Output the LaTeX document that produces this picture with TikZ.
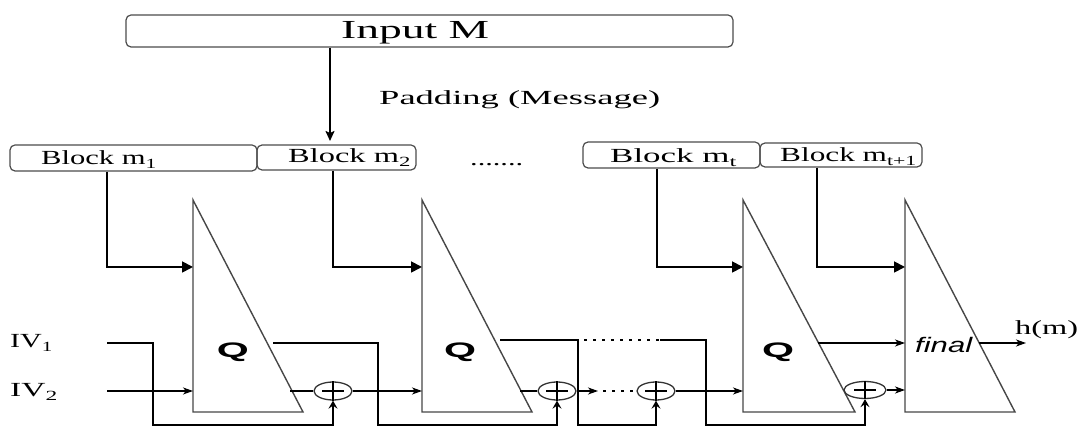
\documentclass[tikz,border=0pt]{standalone}
\usepackage{fontspec}
\usepackage{graphicx}
\setmainfont{Liberation Serif}
\setsansfont{Liberation Sans}
\usetikzlibrary{arrows.meta,shapes.geometric,calc}
\newcommand{\fitw}[2]{\resizebox{#1}{\height}{#2}}
\begin{document}
\begin{tikzpicture}[x=1pt,y=-1pt,
  box/.style={draw=black!70,line width=1.2pt,rounded corners=5pt,inner sep=0pt},
  txt/.style={inner sep=0pt,anchor=base west,font=\fontsize{20}{23}\selectfont},
  tri/.style={draw=black!72,line width=1.4pt,line join=miter},
  conn/.style={draw=black,line width=1.8pt},
  blkarr/.style={-{Triangle[length=11pt,width=11pt]}},
  thinarr/.style={-{Stealth[length=10pt,width=7pt,inset=3pt]}},
  uparr/.style={-{Stealth[length=8pt,width=9pt,inset=3pt]}},
  xor/.style={draw=black!80,line width=1.3pt,ellipse,inner sep=0pt,minimum width=38pt,minimum height=18pt},
  dotline/.style={draw=black,line width=1.8pt,dash pattern=on 3pt off 6pt},
  qlab/.style={inner sep=0pt,anchor=base,font=\fontsize{21}{24}\selectfont\sffamily\bfseries}
]
\useasboundingbox (0,0) rectangle (1080,427);

% boxes
\node[box,minimum width=607pt,minimum height=32pt] (in) at (429.5,31) {};
\node[txt,font=\fontsize{26}{30}\selectfont] (tin) at (341,39) {\fitw{148pt}{Input M}};
\node[box,minimum width=247pt,minimum height=26pt] (b1) at (133.5,158) {};
\node[box,minimum width=159pt,minimum height=25pt] (b2) at (336.5,157.5) {};
\node[box,minimum width=177pt,minimum height=26pt] (b3) at (671.5,155) {};
\node[box,minimum width=162pt,minimum height=24pt] (b4) at (841,155) {};
\node[txt] (tb1) at (41,165) {\fitw{116pt}{Block m\textsubscript{1}}};
\node[txt] (tb2) at (288,163) {\fitw{123pt}{Block m\textsubscript{2}}};
\node[txt] (tb3) at (610,163) {\fitw{127pt}{Block m\textsubscript{t}}};
\node[txt] (tb4) at (780,162) {\fitw{137pt}{Block m\textsubscript{t+1}}};
\node[txt] (dots) at (470,166) {\fitw{53pt}{.......}};
\node[txt] (pad) at (379,105) {\fitw{281pt}{Padding (Message)}};

% Input -> block 2
\coordinate (pa) at (330,141);
\draw[conn,-{Stealth[length=10pt,width=9pt,inset=2pt]}] (pa |- in.south) -- (pa);

% triangles
\draw[tri] (193,200) -- (193,412) -- (303,412) -- cycle;
\draw[tri] (422,200) -- (422,412) -- (532,412) -- cycle;
\draw[tri] (743,200) -- (743,412) -- (855,412) -- cycle;
\draw[tri] (905,200) -- (905,412) -- (1015,412) -- cycle;
\coordinate (t1k) at (193,267);
\coordinate (t2k) at (422,267);
\coordinate (t3k) at (743,267);
\coordinate (t4k) at (905,267);

\node[qlab] (q1) at (233,358) {\fitw{32pt}{Q}};
\node[qlab] (q2) at (460,358) {\fitw{32pt}{Q}};
\node[qlab] (q3) at (778,358) {\fitw{32pt}{Q}};
\node[inner sep=0pt,anchor=base west,font=\fontsize{21}{24}\selectfont\sffamily\itshape] (fin) at (915,353) {\fitw{57pt}{final}};

% block connectors
\coordinate (k1) at (107,267);
\coordinate (k2) at (333,267);
\coordinate (k3) at (657,267);
\coordinate (k4) at (817,267);
\draw[conn,blkarr] (k1 |- b1.south) -- (k1) -- (t1k);
\draw[conn,blkarr] (k2 |- b2.south) -- (k2) -- (t2k);
\draw[conn,blkarr] (k3 |- b3.south) -- (k3) -- (t3k);
\draw[conn,blkarr] (k4 |- b4.south) -- (k4) -- (t4k);

% IV labels
\node[txt] (iv1) at (10,348) {\fitw{43pt}{IV\textsubscript{1}}};
\node[txt] (iv2) at (10,397) {\fitw{48pt}{IV\textsubscript{2}}};

% xor nodes
\node[xor] (x1) at (333,391) {};
\node[xor] (x2) at (557,391) {};
\node[xor] (x3) at (656,391) {};
\node[xor,minimum width=42pt,minimum height=17pt] (x4) at (865,390) {};
\foreach \n in {x1,x2,x3,x4}{
  \draw[line width=2.4pt] (\n.north) -- (\n.south);
  \draw[line width=2.4pt] ([xshift=-11pt]\n.center) -- ([xshift=11pt]\n.center);
}

% IV1 path
\coordinate (iv1s) at (107,343);
\coordinate (iv1k) at (153,425);
\draw[conn,uparr] (iv1s) -| (iv1k) -| (x1.south);
% IV2
\coordinate (iv2s) at (107,391);
\coordinate (t1i) at (193,391);
\draw[conn,thinarr] (iv2s) -- (t1i);

% stage 1
\coordinate (t1o) at (290,391);
\draw[conn] (t1o) -- (x1.west);
\coordinate (t2i) at (422,391);
\draw[conn,thinarr] (x1.east) -- (t2i);
\coordinate (q1o) at (273,343);
\coordinate (q1k) at (378,425);
\draw[conn,uparr] (q1o) -| (q1k) -| (x2.south);

% stage 2
\coordinate (t2o) at (520,391);
\draw[conn] (t2o) -- (x2.west);
\coordinate (x2a) at (598,391);
\draw[conn,thinarr] (x2.east) -- (x2a);
\coordinate (x2d) at (603,391);
\draw[dotline] (x2d) -- (x3.west);
\coordinate (q2o) at (500,340);
\coordinate (q2k) at (578,425);
\draw[conn,uparr] (q2o) -| (q2k) -| (x3.south);
\coordinate (dA) at (584,340);
\coordinate (dB) at (660,340);
\draw[dotline] (dA) -- (dB);
\coordinate (q2k2) at (706,425);
\draw[conn,uparr] (dB) -| (q2k2) -| (x4.south);

% stage 3
\coordinate (t3i) at (743,391);
\draw[conn,thinarr] (x3.east) -- (t3i);
\coordinate (t4i) at (905,390);
\draw[conn,thinarr] (x4.east) -- (t4i);
\coordinate (q3o) at (818,343);
\coordinate (t4m) at (905,343);
\draw[conn,thinarr] (q3o) -- (t4m);

% output
\coordinate (t4o) at (979,343);
\coordinate (hout) at (1026,343);
\draw[conn,thinarr] (t4o) -- (hout);
\node[txt] (hm) at (1015,335) {\fitw{63pt}{h(m)}};
\end{tikzpicture}
\end{document}
